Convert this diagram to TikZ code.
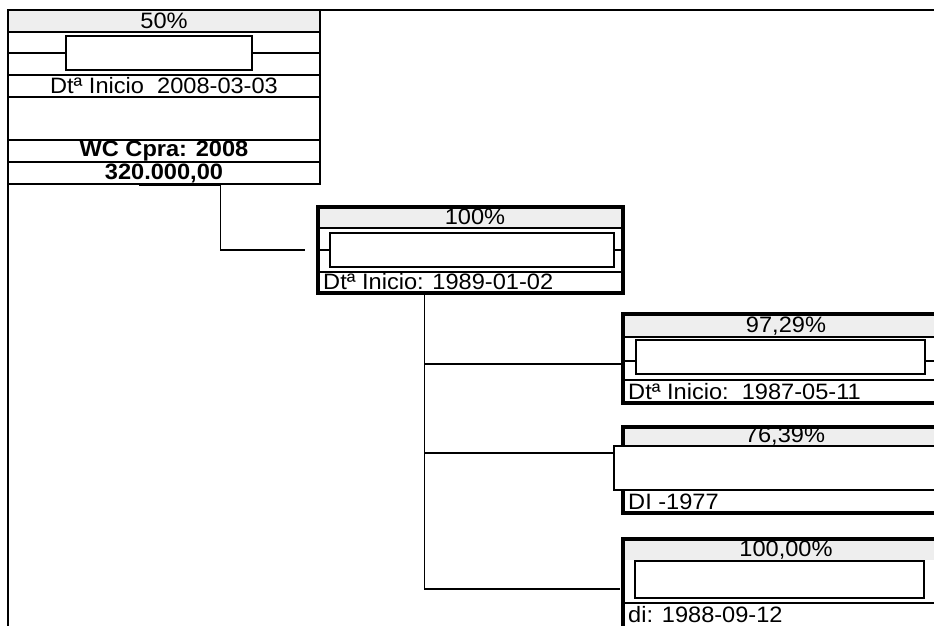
\documentclass[tikz,border=0pt]{standalone}
\usepackage{fontspec}
\newfontfamily\cardfont[FakeStretch=1.06]{Liberation Sans}
\usetikzlibrary{fit, calc}

\tikzset{
    sheet/.style={draw, line width=1.4pt, inner sep=0pt},
    card/.style={draw, line width=1.4pt, inner sep=0pt},
    heavycard/.style={draw, line width=2.6pt, inner sep=0pt},
    band/.style={fill=gray!13},
    rowline/.style={line width=1.1pt},
    redact/.style={draw, fill=white, line width=1.7pt, inner sep=0pt},
    txt/.style={font=\cardfont\fontsize{19}{21}\selectfont, inner sep=0pt},
    txtb/.style={font=\cardfont\bfseries\fontsize{19}{21}\selectfont, inner sep=0pt},
    link/.style={line width=1.2pt}
}

\begin{document}
\begin{tikzpicture}[x=0.03cm, y=-0.03cm]
    \useasboundingbox (0,0) rectangle (934,626);
    \clip (0,0) rectangle (934,626);

    % Outer sheet
    \node[sheet, fit={(8,10) (1000,700)}] (page) {};

    % Title bands
    \fill[band] (8,10) rectangle (320,32);
    \fill[band] (318,207) rectangle (623,228);
    \fill[band] (623,314) rectangle (950,337);
    \fill[band] (623,427) rectangle (950,446);
    \fill[band] (623,539) rectangle (950,560);

    % Row lines
    \foreach \y in {32,53,75,97,140,162}
        \draw[rowline] (8,\y) -- (320,\y);
    \foreach \y in {228,250,272}
        \draw[rowline] (318,\y) -- (623,\y);
    \foreach \y in {337,361,380}
        \draw[rowline] (623,\y) -- (950,\y);
    \foreach \y in {446,490}
        \draw[rowline] (623,\y) -- (950,\y);
    \draw[rowline] (623,603) -- (950,603);

    % Cards
    \node[card, fit={(8,10) (320,184)}] (b1) {};
    \node[heavycard, fit={(318,207) (623,293)}] (b2) {};
    \node[heavycard, fit={(623,314) (950,403)}] (b3) {};
    \node[heavycard, fit={(623,427) (950,513)}] (b4) {};
    \node[heavycard, fit={(623,539) (950,660)}] (b5) {};

    % Hidden name fields
    \node[redact, fit={(66,36) (252,70)}] (r1) {};
    \node[redact, fit={(330,233) (614,267)}] (r2) {};
    \node[redact, fit={(636,340) (925,374)}] (r3) {};
    \node[redact, fit={(614,446) (960,490)}] (r4) {};
    \node[redact, fit={(635,561) (924,598)}] (r5) {};

    % Texts
    \node[txt] (p1) at (164,21) {50\%};
    \node[txt] (d1) at (164,86) {Dtª Inicio\ \ 2008-03-03};
    \node[txtb] (w1) at (164,151) {WC Cpra: 2008};
    \node[txtb] (v1) at (164,173) {320.000,00};

    \node[txt] (p2) at (475,217) {100\%};
    \node[txt, anchor=west] (d2) at (323,282) {Dtª Inicio: 1989-01-02};

    \node[txt] (p3) at (786,326) {97,29\%};
    \node[txt, anchor=west] (d3) at (628,392) {Dtª Inicio:\ \ 1987-05-11};

    \node[txt] (p4) at (785,436) {76,39\%};
    \node[txt, anchor=west] (d4) at (628,502) {DI -1977};

    \node[txt] (p5) at (786,550) {100,00\%};
    \node[txt, anchor=west] (d5) at (628,615) {di: 1988-09-12};

    % Links
    \coordinate (stem1) at ($(b1.south west)!0.68!(b1.south east)$);
    \draw[line width=2.6pt] ($(b1.south west)!0.419!(b1.south east)$) -- (stem1);
    \draw[link] (stem1) |- ([xshift=-0.33cm]b2.west);

    \coordinate (trunk) at ($(b2.south west)!0.351!(b2.south east)$);
    \coordinate (tap3) at (623,364);
    \coordinate (tap4) at (614,453);
    \coordinate (tap5) at (620,589);
    \draw[link] (trunk) |- (tap3);
    \draw[link] (trunk) |- (tap4);
    \draw[link] (trunk) |- (tap5);
\end{tikzpicture}
\end{document}
